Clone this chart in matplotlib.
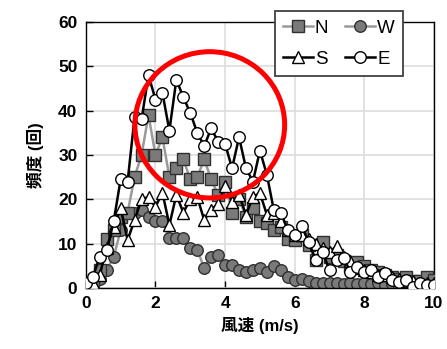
import matplotlib
matplotlib.use("Agg")
import matplotlib.pyplot as plt
from matplotlib.patches import Ellipse
import numpy as np

plt.rcParams['font.family'] = ['Liberation Sans', 'Noto Sans CJK JP', 'DejaVu Sans']

wind = [round(0.2 * i, 1) for i in range(51)]

N = [0, 1, 4, 11, 13, 16, 17, 25, 30, 39, 30, 34, 25, 27, 29, 24.5, 25, 29, 24.5, 21,
     24, 17, 20, 16, 18, 15, 14.7, 13, 13.8, 11, 10.8, 12, 9.7, 6.3, 10.4, 7, 7.4, 6, 5, 5.9,
     5, 4, 3.5, 3, 2.5, 2, 2.5, 1.5, 1.5, 2.5, 1.8]
W = [0, 1, 2, 4, 7, 13, 17, 17, 17.5, 16, 15, 15, 11.3, 11.3, 11.3, 9, 8.6, 4.5, 7, 7.4,
     5.2, 5.2, 4, 3.6, 4, 4.5, 3.5, 5, 4, 2.5, 1.8, 2, 1.5, 1.2, 1, 1.2, 1, 0.8, 1, 0.8,
     1, 0.8, 1, 0.6, 0.8, 0.5, 0.7, 0.5, 0.5, 0.8, 0.5]
S = [0, 1, 3, 9, 13.8, 18, 10.8, 15.3, 20, 20.5, 18.3, 21.5, 14.2, 21, 17, 20, 20.5, 15.3, 17.6, 19,
     23, 19.4, 21, 16.5, 20.5, 21.4, 16.5, 17, 15, 13, 12, 12, 11, 10, 9, 8, 9.5, 7, 6, 4.5,
     4, 3.5, 3, 3, 2.5, 2, 1.5, 1.5, 1, 1, 1]
E = [1, 2.5, 7, 8.5, 15, 24.5, 24, 38.5, 38, 48, 42.5, 44, 35.5, 47, 43, 39.5, 35, 32, 36, 33,
     32.5, 27, 34, 27, 24, 31, 25.5, 17.5, 17, 13, 12, 14, 10.4, 6.3, 8, 4, 6.3, 6.8, 3.6, 4.7,
     3.6, 4, 2.5, 3.4, 1.8, 1.4, 1.8, 0.3, 1.1, 0.7, 0.7]

xticks = [0, 2, 4, 6, 8, 10]
yticks = [0, 10, 20, 30, 40, 50, 60]

fig = plt.figure(figsize=(4.47, 3.49), dpi=100)
ax = fig.add_axes([0.192, 0.175, 0.779, 0.762])

ms = 8.3
hN, = ax.plot(wind, N, '-s', color='#9a9a9a', lw=1.8, ms=ms - 0.3, mfc='#7a7a7a', mec='#303030', mew=1.0, label='N', zorder=3)
hW, = ax.plot(wind, W, '-o', color='#9a9a9a', lw=1.8, ms=ms, mfc='#7a7a7a', mec='#303030', mew=1.0, label='W', zorder=2)
hS, = ax.plot(wind, S, '-^', color='black', lw=1.8, ms=ms, mfc='white', mec='black', mew=1.0, label='S', zorder=4)
hE, = ax.plot(wind, E, '-o', color='black', lw=1.8, ms=ms, mfc='white', mec='black', mew=1.0, label='E', zorder=5)

ax.set_xlim(0, 10)
ax.set_ylim(0, 60)
ax.set_xticks(xticks)
ax.set_yticks(yticks)
ax.grid(True, color='#dddddd', lw=1.2, zorder=0)
ax.set_axisbelow(True)
ax.tick_params(direction='in', length=5, width=1, labelsize=12.5, pad=6)
for lab in ax.get_xticklabels() + ax.get_yticklabels():
    lab.set_fontweight('bold')
for sp in ax.spines.values():
    sp.set_color('black')
    sp.set_linewidth(1.0)

ax.set_xlabel('風速 (m/s)', fontsize=12, fontweight='bold', labelpad=4)
ax.set_ylabel('頻度 (回)', fontsize=12, fontweight='bold', labelpad=10)

leg = ax.legend(handles=[hN, hS, hW, hE], ncol=2, loc='upper right',
                bbox_to_anchor=(0.912, 1.041), borderaxespad=0, fontsize=13.5,
                frameon=True, fancybox=False, framealpha=1,
                edgecolor='#404040', handlelength=1.6, handletextpad=0.1,
                columnspacing=0.9, borderpad=0.45, labelspacing=0.75)
leg.get_frame().set_linewidth(1.3)
leg.set_zorder(10)

circ = Ellipse((3.56, 36.8), width=4.3, height=33.0, fill=False, edgecolor='red',
               lw=3.6, zorder=8, clip_on=False)
ax.add_patch(circ)

fig.savefig('out.png', dpi=100)
